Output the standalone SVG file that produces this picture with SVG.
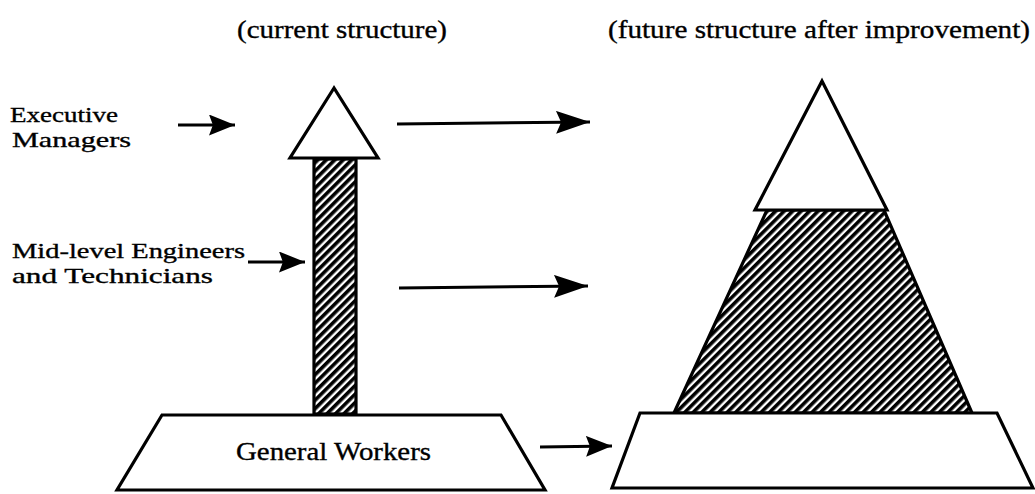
<svg xmlns="http://www.w3.org/2000/svg" width="1035" height="494" viewBox="0 0 1035 494">
  <defs>
    <pattern id="hatch" width="6" height="6" patternUnits="userSpaceOnUse" patternTransform="rotate(45)">
      <rect width="6" height="6" fill="#fff"/>
      <rect width="3.6" height="6" fill="#000"/>
    </pattern>
    <marker id="ahS" viewBox="0 0 10 10" refX="10" refY="5" markerUnits="userSpaceOnUse" markerWidth="26" markerHeight="21" orient="auto" preserveAspectRatio="none">
      <path d="M0,0 L10,5 L0,10 L1.5,5 Z" fill="#000"/>
    </marker>
    <marker id="ahL" viewBox="0 0 10 10" refX="10" refY="5" markerUnits="userSpaceOnUse" markerWidth="34" markerHeight="23" orient="auto" preserveAspectRatio="none">
      <path d="M0,0 L10,5 L0,10 L1.5,5 Z" fill="#000"/>
    </marker>
    <style>
      .shape { fill: #fff; stroke: #000; stroke-width: 3.2; stroke-linejoin: miter; }
      .hatched { fill: url(#hatch); stroke: #000; stroke-width: 3.2; }
      .lbl { font-family: "Liberation Serif", "Times New Roman", serif; font-size: 26px; fill: #000; stroke: #000; stroke-width: 0.35; }
      .lbl2 { font-family: "Liberation Serif", "Times New Roman", serif; font-size: 22px; fill: #000; stroke: #000; stroke-width: 0.35; }
      .conn { stroke: #000; stroke-width: 3; fill: none; }
    </style>
  </defs>
  <rect width="1035" height="494" fill="#fff"/>

  <g id="headings">
    <text class="lbl" x="237" y="38" textLength="210" lengthAdjust="spacingAndGlyphs">(current structure)</text>
    <text class="lbl" x="608" y="38" textLength="422" lengthAdjust="spacingAndGlyphs">(future structure after improvement)</text>
  </g>

  <g id="labels">
    <text class="lbl2" x="10" y="122" textLength="108" lengthAdjust="spacingAndGlyphs">Executive</text>
    <text class="lbl2" x="12" y="147" textLength="119" lengthAdjust="spacingAndGlyphs">Managers</text>
    <text class="lbl2" x="12" y="258" textLength="233" lengthAdjust="spacingAndGlyphs">Mid-level Engineers</text>
    <text class="lbl2" x="12" y="283" textLength="201" lengthAdjust="spacingAndGlyphs">and Technicians</text>
  </g>

  <g id="current-executive">
    <polygon class="shape" points="334,88 290,158 378,158"/>
  </g>
  <g id="current-midlevel">
    <rect class="hatched" x="314" y="159" width="42" height="255"/>
  </g>
  <g id="current-workers">
    <polygon class="shape" points="162,415 501,415 545,490 117,490"/>
    <text class="lbl" x="236" y="460" textLength="195" lengthAdjust="spacingAndGlyphs">General Workers</text>
  </g>

  <g id="future-midlevel">
    <polygon class="hatched" points="767,210 884,210 972,413 674,413"/>
  </g>
  <g id="future-executive">
    <polygon class="shape" points="822,81 755,210 887,210"/>
  </g>
  <g id="future-workers">
    <polygon class="shape" points="640,413 997,413 1033,488 612,488"/>
  </g>

  <g id="connectors">
    <line class="conn" x1="178" y1="125" x2="235" y2="125" marker-end="url(#ahS)"/>
    <line class="conn" x1="248" y1="262" x2="305" y2="262" marker-end="url(#ahS)"/>
    <line class="conn" x1="397" y1="124" x2="590" y2="122" marker-end="url(#ahL)"/>
    <line class="conn" x1="399" y1="288" x2="588" y2="286" marker-end="url(#ahL)"/>
    <line class="conn" x1="540" y1="447" x2="612" y2="446" marker-end="url(#ahS)"/>
  </g>
</svg>
